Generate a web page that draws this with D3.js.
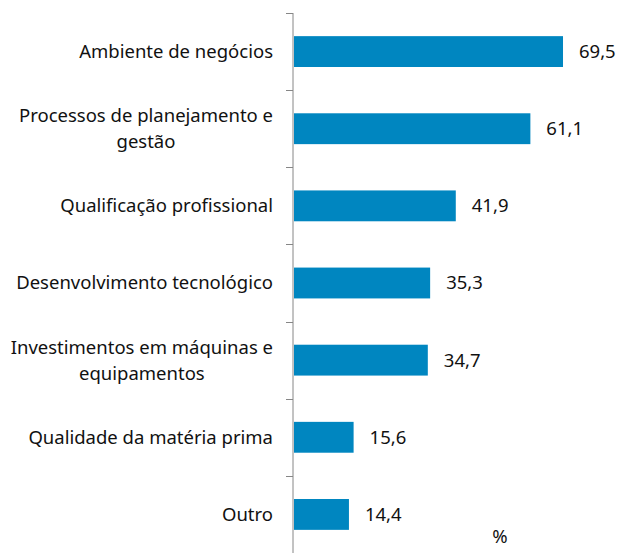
<!DOCTYPE html>
<html>
<head>
<meta charset="utf-8">
<script src="https://cdn.jsdelivr.net/npm/d3@7"></script>
<style>
  body { margin: 0; background: #fff; }
  svg text { font-family: "Noto Sans", sans-serif; fill: #111; }
</style>
</head>
<body>
<div id="chart"></div>
<script>
const categories = [
  ["Ambiente de negócios"],
  ["Processos de planejamento e", "gestão"],
  ["Qualificação profissional"],
  ["Desenvolvimento tecnológico"],
  ["Investimentos em máquinas e", "equipamentos"],
  ["Qualidade da matéria prima"],
  ["Outro"]
];
const values = [69.5, 61.1, 41.9, 35.3, 34.7, 15.6, 14.4];
const unitLabel = "%";

const width = 619;
const height = 557;
const axisX = 293;
const plotTop = 13;
const plotBottom = 553;
const fontSize = 18.5;

const svg = d3.select("#chart")
  .append("svg")
  .attr("width", width)
  .attr("height", height);

const ids = categories.map((d, i) => i);

const y = d3.scaleBand()
  .domain(ids)
  .range([plotTop, plotBottom])
  .paddingInner(0.6)
  .paddingOuter(0.3);

const x = d3.scaleLinear()
  .domain([0, 80])
  .range([axisX, axisX + 80 * 3.885]);

// axis line with ticks at band boundaries
const bounds = ids.map(i => y(i) - y.step() * y.paddingInner() / 2);
bounds[0] = plotTop;
const axisG = svg.append("g");
axisG.append("line")
  .attr("x1", axisX).attr("x2", axisX)
  .attr("y1", plotTop).attr("y2", plotBottom)
  .attr("stroke", "#868686");
axisG.selectAll("line.tick")
  .data(bounds)
  .join("line")
  .attr("class", "tick")
  .attr("x1", axisX - 7).attr("x2", axisX)
  .attr("y1", d => Math.round(d) + 0.5)
  .attr("y2", d => Math.round(d) + 0.5)
  .attr("stroke", "#868686");

// bars
svg.append("g")
  .selectAll("rect")
  .data(values)
  .join("rect")
  .attr("x", x(0) + 1)
  .attr("y", (d, i) => y(i))
  .attr("width", d => x(d) - x(0) - 1)
  .attr("height", y.bandwidth())
  .attr("fill", "#0086C0");

// value labels
svg.append("g")
  .selectAll("text")
  .data(values)
  .join("text")
  .attr("x", d => x(d) + 16)
  .attr("y", (d, i) => y(i) + y.bandwidth() / 2)
  .attr("dy", "0.35em")
  .attr("font-size", fontSize)
  .text(d => d3.format(".1f")(d).replace(".", ","));

// category labels (multi-line, centered block, right aligned)
const lineH = 26;
const labelG = svg.append("g");
categories.forEach((lines, i) => {
  const cy = y(i) + y.bandwidth() / 2;
  const t = labelG.append("text")
    .attr("font-size", fontSize)
    .attr("text-anchor", "middle");
  lines.forEach((ln, j) => {
    t.append("tspan")
      .attr("y", cy + (j - (lines.length - 1) / 2) * lineH)
      .attr("dy", "0.35em")
      .text(ln);
  });
  // measure and right-align block at x = 273
  const w = d3.max(t.selectAll("tspan").nodes(), n => n.getComputedTextLength());
  t.selectAll("tspan").attr("x", 273 - w / 2);
});

svg.append("text")
  .attr("x", 500)
  .attr("y", 537)
  .attr("dy", "0.35em")
  .attr("text-anchor", "middle")
  .attr("font-size", fontSize)
  .text(unitLabel);
</script>
</body>
</html>
